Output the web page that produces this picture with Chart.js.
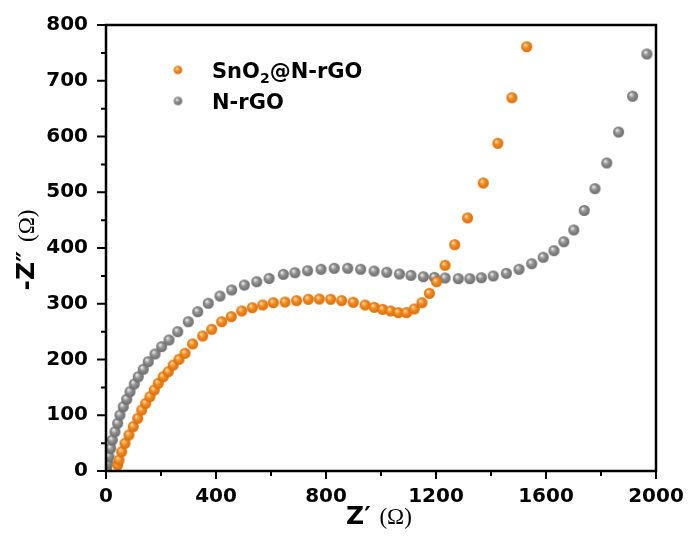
<!DOCTYPE html>
<html>
<head>
<meta charset="utf-8">
<script src="https://cdn.jsdelivr.net/npm/chart.js@4"></script>
<style>
  html, body { margin: 0; padding: 0; background: #fff; }
  #wrap { width: 689px; height: 545px; }
</style>
</head>
<body>
<div id="wrap"><canvas id="chart" width="689" height="545"></canvas></div>
<script>
// Nyquist data (Z' and -Z'' in ohm)
const snoX = [42.5, 47.3, 57.1, 69.1, 83.6, 99.3, 115.3, 129.8, 144.4, 160, 175.6, 190.2, 208.4, 226.5, 244.7, 265.5, 287.3, 315, 351.6, 384.4, 420.7, 455.6, 493.5, 532, 569.8, 608.4, 651, 693, 735.6, 775.6, 817, 857, 899, 942, 975.6, 1006, 1035, 1063, 1093, 1121, 1149, 1176, 1202, 1233, 1268, 1315, 1372, 1425, 1476, 1530];
const snoY = [10.8, 19.7, 34.6, 49.7, 64.6, 79.5, 94.5, 109.4, 121.4, 133.3, 145.3, 157.3, 169.1, 178.1, 190.1, 200.4, 211.1, 228, 242.2, 254.2, 267.8, 276.8, 287, 292.9, 297.8, 301.9, 303.1, 305.5, 308, 308.5, 308, 305.5, 302.6, 297.8, 293.6, 290, 287, 284, 284, 290.6, 301.9, 318.7, 339.5, 369, 406, 454, 516.6, 587.8, 669.6, 761];

const nrgoX = [2, 6.2, 10.9, 17.1, 22.9, 32.7, 42.5, 50.9, 62.9, 75.3, 87.3, 102.9, 117.5, 135.6, 153.8, 178.2, 202.5, 229.1, 260.7, 299.3, 333.5, 372, 414.5, 457, 503, 548, 593, 645, 687, 733, 782, 830, 879, 926, 975, 1021, 1067, 1109, 1154, 1194, 1233, 1281, 1323, 1365, 1408, 1456, 1502, 1548, 1590, 1629, 1665, 1701, 1739, 1778, 1821, 1864, 1915, 1967];
const nrgoY = [4, 13.8, 25.6, 40.7, 55.6, 70.5, 85.6, 100.4, 115.3, 128.6, 142.2, 156.1, 169.1, 182.4, 196.1, 209.9, 223, 235, 249.9, 267.8, 285.7, 300.8, 313.9, 324.7, 333.6, 339.5, 345.5, 352.8, 355.7, 359.3, 361.8, 363.6, 363.6, 361.8, 358.7, 356.4, 353.4, 351, 348.5, 347.4, 346.2, 345, 345, 346.7, 349.8, 354.6, 361.8, 371.8, 383.3, 395.2, 411.3, 432.3, 467.3, 506.4, 552.5, 608, 672.3, 748];

const xTicks = [0, 400, 800, 1200, 1600, 2000];
const yTicks = [0, 100, 200, 300, 400, 500, 600, 700, 800];
const xMinor = [200, 600, 1000, 1400, 1800];
const yMinor = [50, 150, 250, 350, 450, 550, 650, 750];

const tickFont = { family: 'DejaVu Sans', size: 20, weight: 'bold' };

// small shaded ball used as point marker
function ball(r, hi, mid, lo) {
  const c = document.createElement('canvas');
  const s = Math.ceil(r * 2) + 2;
  c.width = s; c.height = s;
  const g = c.getContext('2d');
  const cx = s / 2, cy = s / 2;
  const grad = g.createRadialGradient(cx - r * 0.3, cy - r * 0.35, r * 0.1, cx, cy, r);
  grad.addColorStop(0, hi);
  grad.addColorStop(0.4, mid);
  grad.addColorStop(1, lo);
  g.fillStyle = grad;
  g.beginPath();
  g.arc(cx, cy, r, 0, Math.PI * 2);
  g.fill();
  return c;
}

const orangeBall = ball(5.5, '#ffd6a0', '#f38d22', '#d86c08');
const greyBall = ball(5.5, '#e6e6e6', '#939393', '#6a6a6a');
const orangeSmall = ball(4.3, '#ffd6a0', '#f38d22', '#d86c08');
const greySmall = ball(4.3, '#e6e6e6', '#939393', '#6a6a6a');

const frame = {
  id: 'frame',
  afterDraw(chart) {
    const { ctx, chartArea: a, scales: { x, y } } = chart;
    ctx.save();
    ctx.strokeStyle = '#000';
    ctx.lineWidth = 2.5;
    ctx.strokeRect(a.left, a.top, a.right - a.left, a.bottom - a.top);
    ctx.lineWidth = 2;
    ctx.beginPath();
    xTicks.forEach(v => { const p = x.getPixelForValue(v); ctx.moveTo(p, a.bottom); ctx.lineTo(p, a.bottom + 8); });
    xMinor.forEach(v => { const p = x.getPixelForValue(v); ctx.moveTo(p, a.bottom); ctx.lineTo(p, a.bottom + 5); });
    yTicks.forEach(v => { const p = y.getPixelForValue(v); ctx.moveTo(a.left, p); ctx.lineTo(a.left - 9, p); });
    yMinor.forEach(v => { const p = y.getPixelForValue(v); ctx.moveTo(a.left, p); ctx.lineTo(a.left - 5, p); });
    ctx.stroke();

    // legend
    ctx.fillStyle = '#000';
    ctx.textBaseline = 'alphabetic';
    ctx.drawImage(orangeSmall, 178 - orangeSmall.width / 2, 70 - orangeSmall.height / 2);
    ctx.drawImage(greySmall, 178 - greySmall.width / 2, 101 - greySmall.height / 2);
    ctx.font = 'bold 21px "DejaVu Sans"';
    let tx = 212;
    ctx.fillText('SnO', tx, 78);
    tx += ctx.measureText('SnO').width;
    ctx.font = 'bold 14px "DejaVu Sans"';
    ctx.fillText('2', tx, 83);
    tx += ctx.measureText('2').width;
    ctx.font = 'bold 21px "DejaVu Sans"';
    ctx.fillText('@N-rGO', tx, 78);
    ctx.fillText('N-rGO', 212, 109);

    // x title
    ctx.font = 'bold 25px "DejaVu Sans"';
    ctx.fillText('Z\u2032', 346, 524);
    let w = ctx.measureText('Z\u2032 ').width;
    ctx.font = '23px "Liberation Serif"';
    ctx.fillText('(\u03A9)', 346 + w, 524);

    // y title
    ctx.translate(34, 250);
    ctx.rotate(-Math.PI / 2);
    ctx.font = 'bold 25px "DejaVu Sans"';
    const t1 = '-Z\u2033 ';
    const w1 = ctx.measureText(t1).width;
    ctx.font = '23px "Liberation Serif"';
    const w2 = ctx.measureText('(\u03A9)').width;
    const sx = -(w1 + w2) / 2;
    ctx.font = 'bold 25px "DejaVu Sans"';
    ctx.fillText(t1, sx, 0);
    ctx.font = '23px "Liberation Serif"';
    ctx.fillText('(\u03A9)', sx + w1, 0);
    ctx.restore();
  }
};

const ctx = document.getElementById('chart').getContext('2d');
new Chart(ctx, {
  type: 'scatter',
  data: {
    datasets: [
      {
        label: 'SnO2@N-rGO',
        data: snoX.map((v, i) => ({ x: v, y: snoY[i] })),
        pointStyle: orangeBall,
        backgroundColor: '#f38d22'
      },
      {
        label: 'N-rGO',
        data: nrgoX.map((v, i) => ({ x: v, y: nrgoY[i] })),
        pointStyle: greyBall,
        backgroundColor: '#939393'
      }
    ]
  },
  options: {
    responsive: false,
    animation: false,
    layout: { padding: { top: 25, right: 33, left: 0, bottom: 0 } },
    plugins: { legend: { display: false }, tooltip: { enabled: false } },
    scales: {
      x: {
        type: 'linear',
        min: 0, max: 2000,
        afterBuildTicks: s => { s.ticks = xTicks.map(v => ({ value: v })); },
        afterFit: s => { s.height = 74; s.paddingLeft = 0; s.paddingRight = 0; },
        grid: { display: false, drawTicks: false },
        border: { display: false },
        ticks: { font: tickFont, color: '#000', padding: 14, maxRotation: 0, callback: v => String(v) }
      },
      y: {
        type: 'linear',
        min: 0, max: 800,
        afterBuildTicks: s => { s.ticks = yTicks.map(v => ({ value: v })); },
        afterFit: s => { s.width = 106; s.paddingTop = 0; s.paddingBottom = 0; },
        grid: { display: false, drawTicks: false },
        border: { display: false },
        ticks: { font: tickFont, color: '#000', padding: 18, callback: v => String(v) }
      }
    }
  },
  plugins: [frame]
});
</script>
</body>
</html>
